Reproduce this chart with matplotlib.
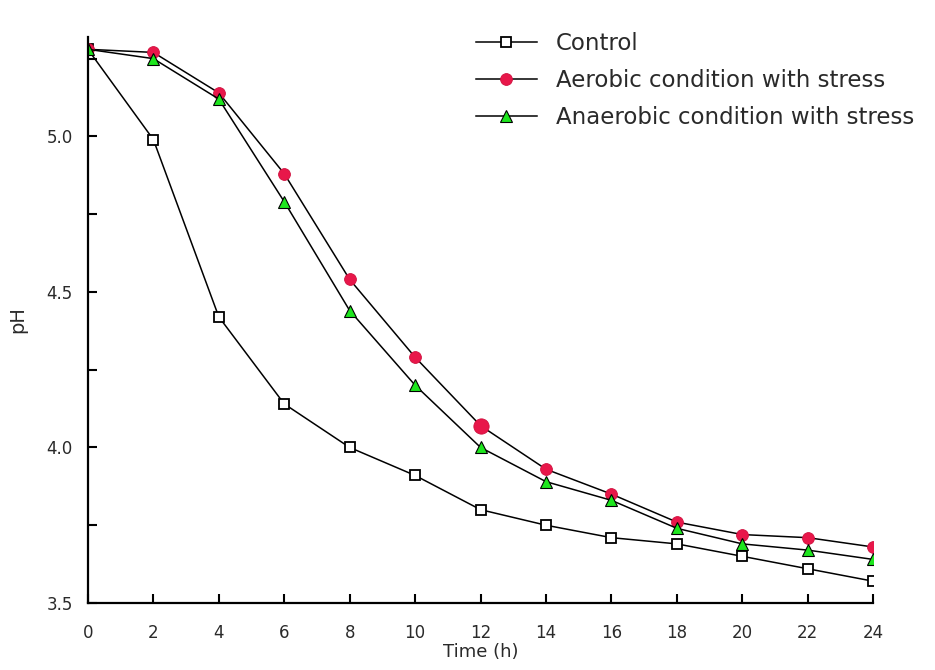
import matplotlib.pyplot as plt

# time points (h) and pH readings
time_h = [0, 2, 4, 6, 8, 10, 12, 14, 16, 18, 20, 22, 24]
ph_control = [5.28, 4.99, 4.42, 4.14, 4.00, 3.91, 3.80, 3.75, 3.71, 3.69, 3.65, 3.61, 3.57]
ph_aerobic = [5.28, 5.27, 5.14, 4.88, 4.54, 4.29, 4.07, 3.93, 3.85, 3.76, 3.72, 3.71, 3.68]
ph_anaerobic = [5.28, 5.25, 5.12, 4.79, 4.44, 4.20, 4.00, 3.89, 3.83, 3.74, 3.69, 3.67, 3.64]

plt.rcParams['font.family'] = ['DejaVu Sans']
txt = '#2a2a2a'

fig = plt.figure(figsize=(9.35, 6.7), dpi=100)
ax = fig.add_axes([0.094, 0.1, 0.84, 0.845])

ax.plot(time_h, ph_control, color='black', lw=1.1, marker='s', ms=7.5,
        mfc='white', mec='black', mew=1.3, label='Control')
ax.plot(time_h, ph_aerobic, color='black', lw=1.1, marker='o', ms=8.5,
        mfc='#e8174a', mec='#d0103e', mew=0.6, label='Aerobic condition with stress')
# the 12 h aerobic point is drawn bigger in the original
ax.plot(time_h[6], ph_aerobic[6], marker='o', ms=11, mfc='#e8174a', mec='#d0103e', mew=0.6)
ax.plot(time_h, ph_anaerobic, color='black', lw=1.1, marker='^', ms=8,
        mfc='#1ee61e', mec='black', mew=0.8, label='Anaerobic condition with stress')

ax.set_xlim(0, 24)
ax.set_ylim(3.5, 5.32)
ax.set_xticks(range(0, 25, 2))
ax.set_yticks([3.5, 4.0, 4.5, 5.0])
ax.set_yticklabels(['3.5', '4.0', '4.5', '5.0'])
ax.set_yticks([3.75, 4.25, 4.75, 5.25], minor=True)

for s in ['top', 'right']:
    ax.spines[s].set_visible(False)
for s in ['left', 'bottom']:
    ax.spines[s].set_linewidth(1.6)

ax.tick_params(direction='in', length=6.5, width=1.5, labelsize=12, colors='black',
               labelcolor=txt)
ax.tick_params(axis='x', pad=15)
ax.tick_params(axis='y', pad=11)
ax.tick_params(which='minor', direction='in', length=6.5, width=1.5)

ax.set_xlabel('Time (h)', fontsize=13, color=txt, labelpad=1)
ax.set_ylabel('pH', fontsize=14, color=txt, labelpad=14)

fig.legend(loc='upper left', bbox_to_anchor=(0.509, 0.952), frameon=False, fontsize=16.5,
           handlelength=2.65, handletextpad=0.85, labelspacing=0.6,
           borderpad=0, borderaxespad=0, labelcolor=txt)

plt.savefig('out.png')
